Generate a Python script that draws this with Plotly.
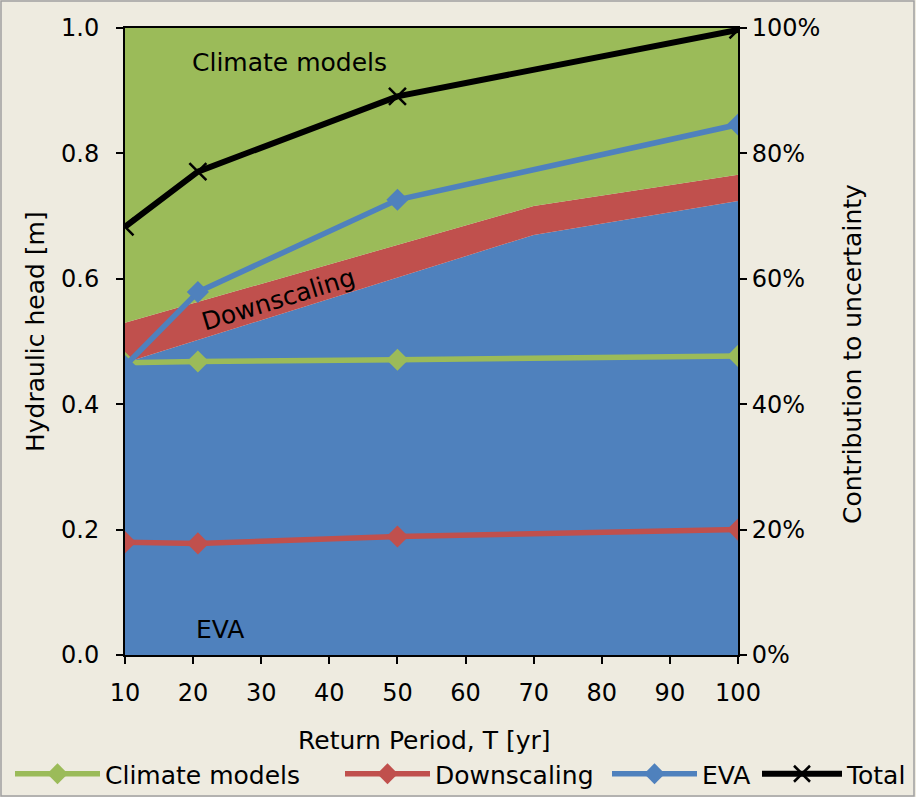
import plotly.graph_objects as go

# ---- data ----
return_period = [10, 20.7, 50, 100]          # T [yr] for the line series
climate_models_head = [0.466, 0.468, 0.471, 0.477]
downscaling_head = [0.180, 0.178, 0.189, 0.200]
eva_head = [0.461, 0.579, 0.726, 0.846]
total_head = [0.683, 0.771, 0.891, 0.997]

area_T = [10, 70, 100]                          # T [yr] for the stacked areas
eva_pct = [46.6, 67.0, 72.4]                    # contribution to uncertainty [%]
downscaling_pct = [6.4, 4.6, 4.2]
climate_pct = [47.0, 28.4, 23.4]

x_ticks = [10, 20, 30, 40, 50, 60, 70, 80, 90, 100]
y_ticks = [0.0, 0.2, 0.4, 0.6, 0.8, 1.0]
y2_ticks = [0, 20, 40, 60, 80, 100]
y2_labels = ["0%", "20%", "40%", "60%", "80%", "100%"]

GREEN = "#9BBB59"
RED = "#C0504D"
BLUE = "#4F81BD"
BG = "#EEEBE0"
FONT = "DejaVu Sans, Liberation Sans, Arial, sans-serif"
FS = 24
FS_TXT = 25
W, H = 916, 797

fig = go.Figure()

# stacked areas (contribution, shown as fraction of the total on the same scale)
for name, vals, col in [("EVA area", eva_pct, BLUE),
                        ("Downscaling area", downscaling_pct, RED),
                        ("Climate models area", climate_pct, GREEN)]:
    fig.add_trace(go.Scatter(
        x=area_T, y=[v / 100 for v in vals], stackgroup="contrib",
        mode="none", fillcolor=col, line=dict(width=0),
        showlegend=False, hoverinfo="skip", name=name))

# lines (each with its own legend box so entries can be spaced like the original)
fig.add_trace(go.Scatter(x=return_period, y=climate_models_head, name="Climate models",
                         mode="lines+markers", line=dict(color=GREEN, width=5.5),
                         marker=dict(symbol="diamond", size=17, color=GREEN),
                         legend="legend"))
fig.add_trace(go.Scatter(x=return_period, y=downscaling_head, name="Downscaling",
                         mode="lines+markers", line=dict(color=RED, width=5.5),
                         marker=dict(symbol="diamond", size=17, color=RED),
                         legend="legend2"))
fig.add_trace(go.Scatter(x=return_period, y=eva_head, name="EVA",
                         mode="lines+markers", line=dict(color=BLUE, width=5.5),
                         marker=dict(symbol="diamond", size=17, color=BLUE),
                         legend="legend3"))
fig.add_trace(go.Scatter(x=return_period, y=total_head, name="Total",
                         mode="lines+markers", line=dict(color="black", width=6),
                         marker=dict(symbol="x-thin", size=17,
                                     line=dict(color="black", width=2.5)),
                         legend="legend4"))

# dummy trace to activate the right axis
fig.add_trace(go.Scatter(x=[10, 100], y=[0, 100], yaxis="y2", mode="markers",
                         marker=dict(opacity=0), showlegend=False, hoverinfo="skip"))

# in-plot labels
fig.add_annotation(x=34.2, y=0.945, text="Climate models", showarrow=False,
                   font=dict(size=FS_TXT, color="black", family=FONT))
fig.add_annotation(x=32.5, y=0.567, text="Downscaling", showarrow=False, textangle=-17,
                   font=dict(size=FS_TXT, color="black", family=FONT))
fig.add_annotation(x=24, y=0.041, text="EVA", showarrow=False,
                   font=dict(size=FS_TXT, color="black", family=FONT))

# axis titles
fig.add_annotation(xref="paper", yref="paper", x=35 / W, y=1 - 332 / H,
                   text="Hydraulic head [m]", textangle=-90, showarrow=False,
                   xanchor="center", yanchor="middle",
                   font=dict(size=FS_TXT, color="black", family=FONT))
fig.add_annotation(xref="paper", yref="paper", x=852 / W, y=1 - 354 / H,
                   text="Contribution to uncertainty", textangle=-90, showarrow=False,
                   xanchor="center", yanchor="middle",
                   font=dict(size=FS_TXT, color="black", family=FONT))
fig.add_annotation(xref="paper", yref="paper", x=424 / W, y=1 - 740 / H,
                   text="Return Period, T [yr]", showarrow=False,
                   xanchor="center", yanchor="middle",
                   font=dict(size=FS_TXT, color="black", family=FONT))

# outer frame
fig.add_shape(type="rect", xref="paper", yref="paper",
              x0=1 / W, x1=914 / W, y0=1 / H, y1=1 - 1 / H,
              line=dict(color="#A0A0A0", width=1.5), layer="below")

axis_common = dict(showline=True, linecolor="black", linewidth=2, ticks="outside",
                   ticklen=7, tickwidth=2, tickcolor="black", showgrid=False,
                   zeroline=False, automargin=False,
                   tickfont=dict(size=FS, color="black", family=FONT))

x_dom = [125 / W, 738 / W]
y_dom = [(H - 655) / H, (H - 28) / H]

legend_common = dict(orientation="h", xanchor="left", y=0, yanchor="bottom",
                     font=dict(size=FS_TXT, family=FONT), bgcolor="rgba(0,0,0,0)")

fig.update_layout(
    width=W, height=H,
    margin=dict(l=0, r=0, t=0, b=0),
    paper_bgcolor=BG, plot_bgcolor=BG,
    font=dict(family=FONT, color="black"),
    xaxis=dict(domain=x_dom, range=[10, 100], tickvals=x_ticks, mirror=True,
               ticklabelstandoff=8, **axis_common),
    yaxis=dict(domain=y_dom, range=[0, 1], tickvals=y_ticks, tickformat=".1f", mirror=False,
               ticklabelstandoff=12, **axis_common),
    yaxis2=dict(range=[0, 100], tickvals=y2_ticks, ticktext=y2_labels, overlaying="y",
                side="right", **axis_common),
    legend=dict(x=10 / W, itemwidth=85, **legend_common),
    legend2=dict(x=340 / W, itemwidth=85, **legend_common),
    legend3=dict(x=607 / W, itemwidth=85, **legend_common),
    legend4=dict(x=757 / W, itemwidth=80, **legend_common),
    showlegend=True,
)

fig.write_html("out.html", post_script="document.body.style.margin='0';",
               config={"displayModeBar": False})
